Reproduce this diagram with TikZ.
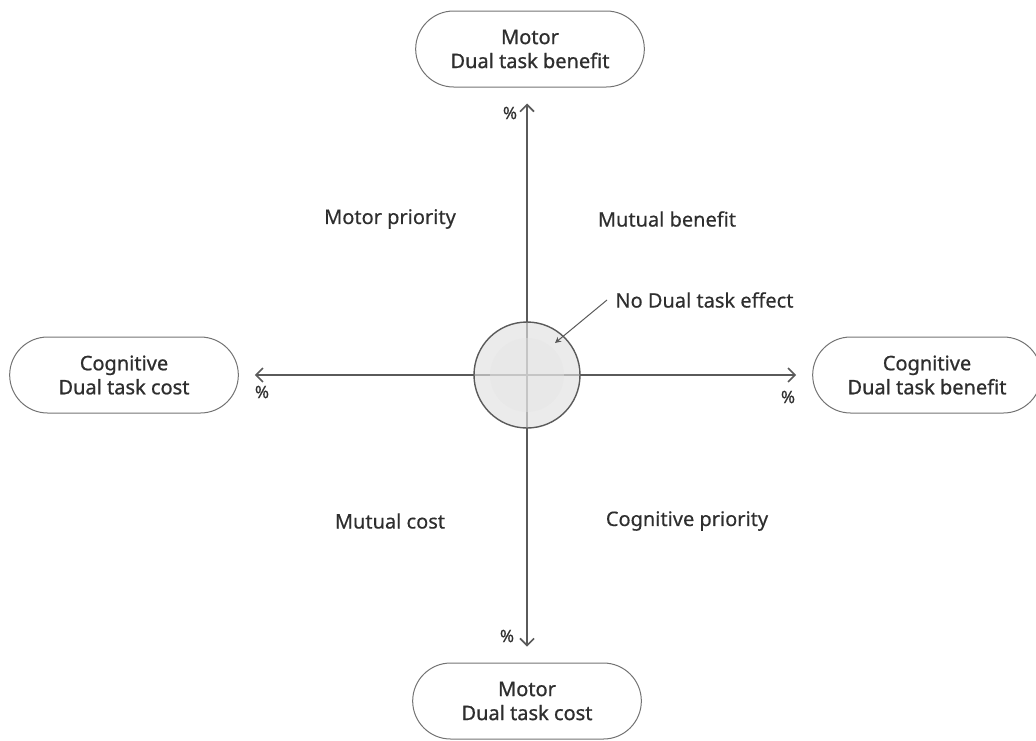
\documentclass[tikz,border=0pt]{standalone}
\usepackage{fontspec}
\setmainfont{Noto Sans}
\usetikzlibrary{positioning,arrows.meta,shapes.misc}
\definecolor{txt}{HTML}{2E2E2E}
\definecolor{axis}{HTML}{5A5A5A}
\tikzset{>={Straight Barb[length=3.5pt,width=7pt]}}

\begin{document}
\begin{tikzpicture}[x=0.5pt, y=-0.5pt,
    font=\fontsize{10}{12}\selectfont\addfontfeature{FakeBold=0.4}, text=txt,
    pole/.style={rounded rectangle, draw=black!55, line width=0.5pt,
      minimum width=121pt, minimum height=38pt, align=center,
      font=\fontsize{10}{12}\selectfont\addfontfeature{FakeBold=0.9}},
    axline/.style={->, draw=axis, line width=0.8pt, shorten >=8pt},
    quad/.style={inner sep=0pt},
    pct/.style={inner sep=0pt, font=\fontsize{8.5}{10}\selectfont\addfontfeature{FakeBold=0.5}}]
  \useasboundingbox (0,0) rectangle (1036,740);
  \coordinate (o) at (527,375);  % origin

  % outer poles
  \node[pole] (mben) at (530,49)  {Motor\\Dual task benefit};
  \node[pole] (mcost) at (527,701) {Motor\\Dual task cost};
  \node[pole] (ccost) at (124,375) {Cognitive\\Dual task cost};
  \node[pole] (cben) at (927,375) {Cognitive\\Dual task benefit};

  % axes
  \path
    (o) edge[axline] (o |- mben.south)
    (o) edge[axline] (o |- mcost.north)
    (o) edge[axline] (o -| ccost.east)
    (o) edge[axline] (o -| cben.west);

  \node[pct] (ptop) at (510,113) {\%};
  \node[pct] (pbot) at (507,636) {\%};
  \node[pct] (pleft) at (262,392) {\%};
  \node[pct] (pright) at (788,397) {\%};

  % neutral zone
  \fill[black!12, fill opacity=0.65] (o) circle[radius=53];
  \fill[black!10, fill opacity=0.4] (o) circle[radius=37];
  \draw[axis, line width=0.7pt] (o) circle[radius=53];

  % quadrants
  \node[quad] (mprio) at (390,219) {Motor priority};
  \node[quad] (mutben) at (667,219) {Mutual benefit};
  \node[quad] (mutcost) at (390,521) {Mutual cost};
  \node[quad] (cprio) at (687,521) {Cognitive priority};

  \node[quad, anchor=west] (noeff) at (615,300) {No Dual task effect};
  \coordinate (tick) at (555,343);
  \draw[axis, line width=0.5pt, -{Stealth[length=3pt,width=3pt]}]
    ([xshift=-4pt]noeff.west) -- (tick);
\end{tikzpicture}
\end{document}
